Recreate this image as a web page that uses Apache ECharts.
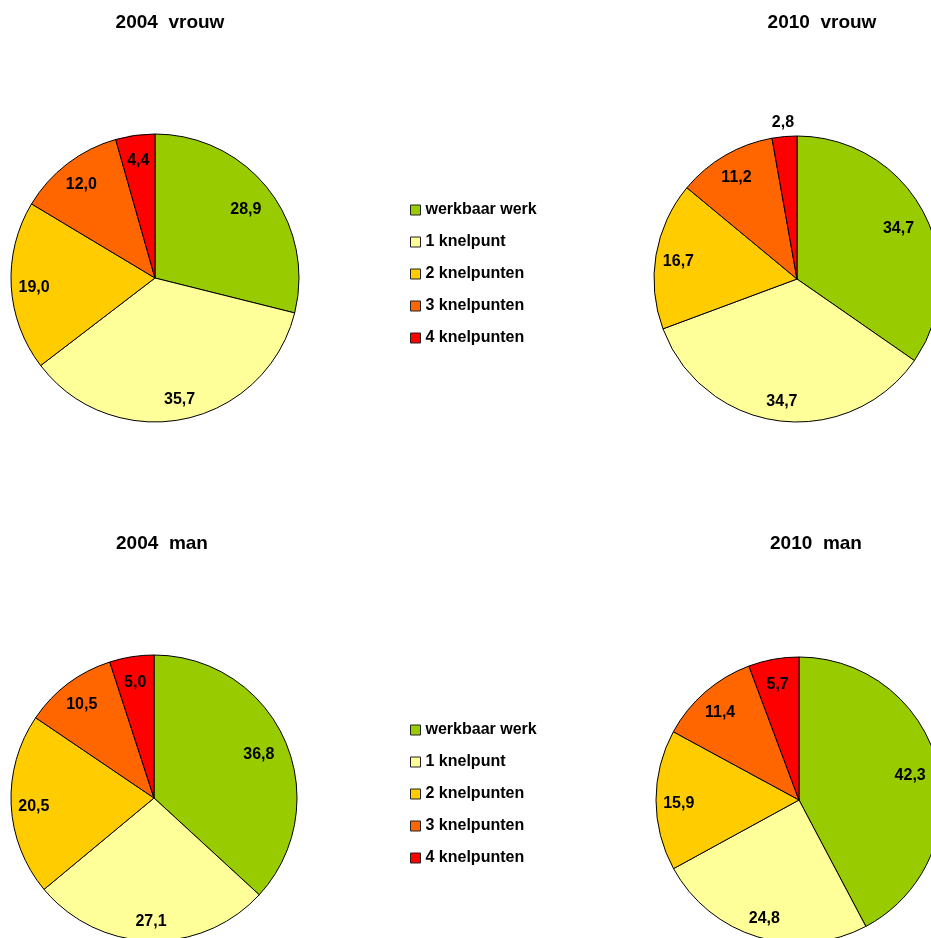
<!DOCTYPE html>
<html>
<head>
<meta charset="utf-8">
<script src="https://cdn.jsdelivr.net/npm/echarts@6/dist/echarts.min.js"></script>
<style>
html,body{margin:0;padding:0;background:#fff;}
#chart{width:931px;height:938px;}
</style>
</head>
<body>
<div id="chart"></div>
<script>
const categories = ['werkbaar werk', '1 knelpunt', '2 knelpunten', '3 knelpunten', '4 knelpunten'];
const colors = ['#99CC00', '#FFFF99', '#FFCC00', '#FF6600', '#FF0000'];
const titles = ['2004  vrouw', '2010  vrouw', '2004  man', '2010  man'];
const vrouw2004 = [28.9, 35.7, 19.0, 12.0, 4.4];
const vrouw2010 = [34.7, 34.7, 16.7, 11.2, 2.8];
const man2004 = [36.8, 27.1, 20.5, 10.5, 5.0];
const man2010 = [42.3, 24.8, 15.9, 11.4, 5.7];

const FONT = '"Liberation Sans", Arial, sans-serif';
const pies = [
  {values: vrouw2004, cx: 155, cy: 278, r: 144, tx: 170, ty: 13},
  {values: vrouw2010, cx: 797, cy: 279, r: 143, tx: 822, ty: 13},
  {values: man2004, cx: 154, cy: 798, r: 143, tx: 162, ty: 534},
  {values: man2010, cx: 799, cy: 800, r: 143, tx: 816, ty: 534}
];

function fmt(v) { return v.toFixed(1).replace('.', ','); }

function buildData(values, r) {
  const total = values.reduce((a, b) => a + b, 0);
  let cum = 0;
  return values.map((v, i) => {
    const mid = (cum + v / 2) / total * 2 * Math.PI;
    cum += v;
    // label radial distance: inside near the rim, small slices outside
    let k = v < 3 ? 1.1 : (i === 0 ? 0.78 : 0.82);
    const d = (k - 0.5) * r;
    return {
      name: categories[i],
      value: v,
      itemStyle: {color: colors[i]},
      label: {offset: [d * Math.sin(mid), -d * Math.cos(mid) + 3]}
    };
  });
}

const series = pies.map(p => ({
  type: 'pie',
  center: [p.cx, p.cy],
  radius: p.r,
  startAngle: 90,
  clockwise: true,
  avoidLabelOverlap: false,
  animation: false,
  itemStyle: {borderColor: '#000', borderWidth: 1},
  label: {
    show: true,
    position: 'inside',
    formatter: params => fmt(params.value),
    color: '#000',
    fontFamily: FONT,
    fontWeight: 'bold',
    fontSize: 16
  },
  labelLine: {show: false},
  emphasis: {disabled: true},
  data: buildData(p.values, p.r)
}));

const legendBase = {
  orient: 'vertical',
  left: 410,
  padding: 0,
  itemWidth: 10,
  itemHeight: 10,
  itemGap: 12,
  icon: 'rect',
  selectedMode: false,
  itemStyle: {borderColor: '#222', borderWidth: 1},
  textStyle: {fontFamily: FONT, fontWeight: 'bold', fontSize: 16, lineHeight: 20, color: '#000'},
  data: categories
};

const option = {
  backgroundColor: '#fff',
  animation: false,
  title: pies.map((p, i) => ({
    text: titles[i],
    left: p.tx,
    top: p.ty,
    padding: 0,
    textAlign: 'center',
    textStyle: {fontFamily: FONT, fontWeight: 'bold', fontSize: 19, color: '#000'}
  })),
  legend: [
    Object.assign({}, legendBase, {top: 200}),
    Object.assign({}, legendBase, {top: 720})
  ],
  series: series
};

const chart = echarts.init(document.getElementById('chart'), null, {renderer: 'canvas'});
chart.setOption(option);
</script>
</body>
</html>
